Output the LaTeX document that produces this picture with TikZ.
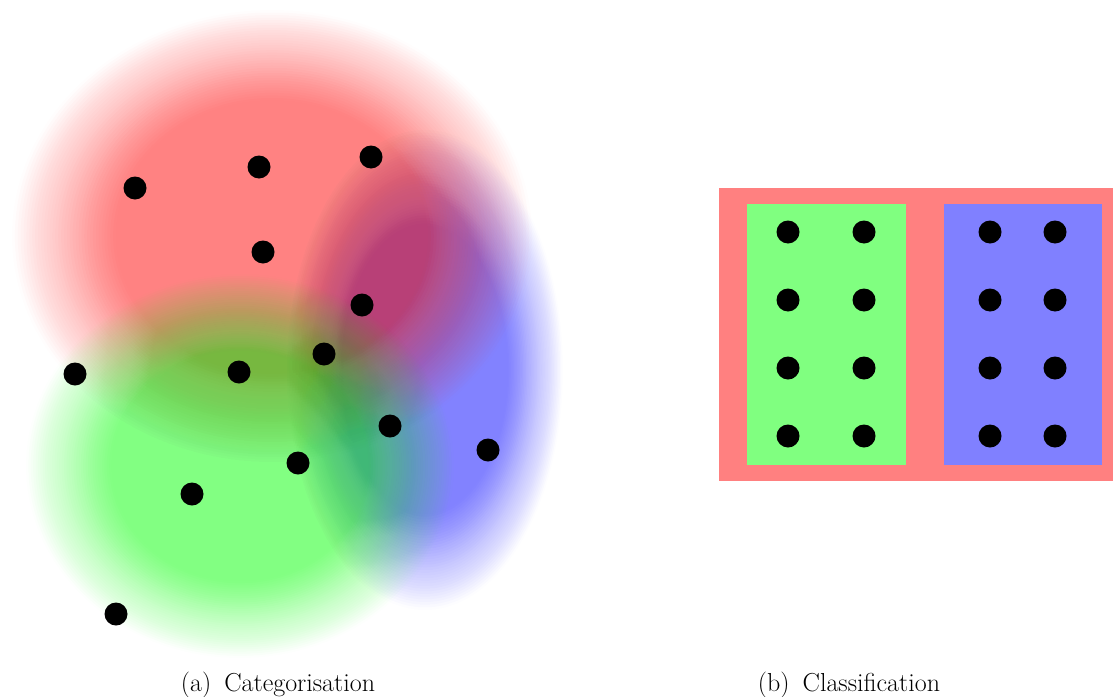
\documentclass[tikz,border=0pt]{standalone}
\tikzset{
  dot/.style={circle, fill=black, minimum size=23pt, inner sep=0pt},
  caption/.style={anchor=base, font=\fontsize{26}{30}\selectfont, inner sep=0pt}
}
% fuzzy ellipse: solid core (opacity 0.5) fading to 0 at the rim,
% built from nested semi-transparent ellipses
\newcommand\fuzzyblob[5]{%
  \foreach \k in {0,...,36}{%
    \pgfmathsetmacro\sc{0.6+0.4*\k/36}%
    \pgfmathsetmacro\ta{max(0,min(1,(\k-0.5)/36))}%
    \pgfmathsetmacro\tb{max(0,min(1,(\k+0.5)/36))}%
    \pgfmathsetmacro\Ak{0.5*(1-\ta)}%
    \pgfmathsetmacro\An{0.5*(1-\tb)}%
    \pgfmathsetmacro\op{1-(1-\Ak)/(1-\An)}%
    \fill[#1, fill opacity=\op] (#2,#3) ellipse [x radius=\sc*#4, y radius=\sc*#5];
  }%
}
\begin{document}
\begin{tikzpicture}[x=1pt,y=-1pt]
\useasboundingbox (0,0) rectangle (1113,696);
% fuzzy category regions
\fuzzyblob{blue}{425}{370}{138}{240}
\fuzzyblob{red}{272}{236}{260}{226}
\fuzzyblob{green}{240}{466}{214}{192}
% points (a)
\node[dot] (a1) at (135,188) {};
\node[dot] (a2) at (259,167) {};
\node[dot] (a3) at (371,157) {};
\node[dot] (a4) at (263,252) {};
\node[dot] (a5) at (362,305) {};
\node[dot] (a6) at (324,354) {};
\node[dot] (a7) at (75,374) {};
\node[dot] (a8) at (239,372) {};
\node[dot] (a9) at (390,426) {};
\node[dot] (a10) at (488,450) {};
\node[dot] (a11) at (298,463) {};
\node[dot] (a12) at (192,494) {};
\node[dot] (a13) at (116,614) {};
% classification (b)
\fill[red!50] (719,188) rectangle (1113,481);
\fill[green!50] (747,204) rectangle (906,465);
\fill[blue!50] (944,204) rectangle (1102,465);
\foreach \r [count=\i] in {232,300,368,436}{
  \node[dot] (g\i l) at (788,\r) {};
  \node[dot] (g\i r) at (864,\r) {};
  \node[dot] (b\i l) at (990,\r) {};
  \node[dot] (b\i r) at (1055,\r) {};
}
% captions
\node[caption] (capa) at (278,691) {(a)\enspace Categorisation};
\node[caption] (capb) at (849,691) {(b)\enspace Classification};
\end{tikzpicture}
\end{document}
